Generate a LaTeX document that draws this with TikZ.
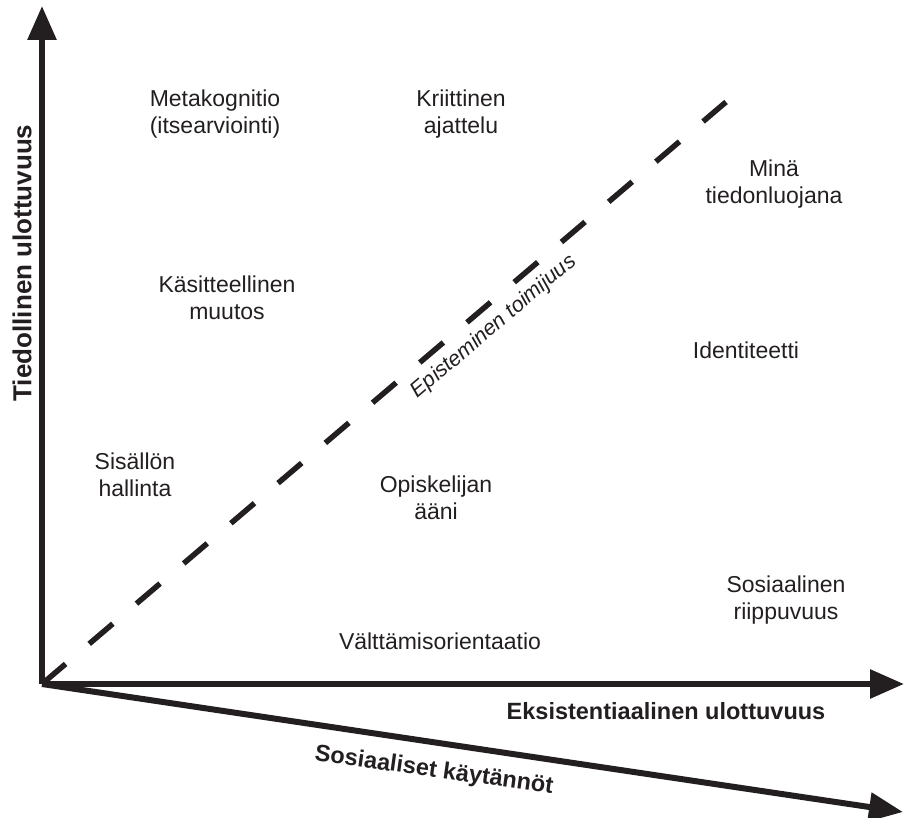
\documentclass[tikz,border=0pt]{standalone}
\usepackage{fontspec}
\setmainfont{Liberation Sans}
\usetikzlibrary{arrows.meta}
\definecolor{ink}{HTML}{231F20}
\begin{document}
\begin{tikzpicture}[x=1pt,y=-1pt,
  axis/.style={draw=ink,line width=6pt,-{Triangle[length=34pt,width=28pt]}},
  agency/.style={draw=ink,line width=5.5pt,dash pattern=on 31pt off 31pt},
  lbl/.style={text=ink,align=center,inner sep=0pt,font=\fontsize{23}{27.5}\selectfont},
  axlbl/.style={text=ink,inner sep=0pt,font=\bfseries\fontsize{23.5}{28}\selectfont}]
  \useasboundingbox (0,0) rectangle (904,818);
  % axes
  \coordinate (O) at (42,684);
  \coordinate (ytip) at (42,6);
  \coordinate (xtip) at (904,684);
  \coordinate (stip) at (903,812);
  \coordinate (dend) at (726,102);
  \draw[agency] (O) -- (dend);
  \draw[axis] (O) -- (ytip);
  \draw[axis] (O) -- (xtip);
  \draw[axis] (O) -- (stip);
  % axis names
  \node[axlbl,rotate=90,font=\bfseries\fontsize{26}{30}\selectfont] (ylab) at (22,263) {Tiedollinen ulottuvuus};
  \node[axlbl] (xlab) at (666,711) {Eksistentiaalinen ulottuvuus};
  \node[axlbl,rotate=-8] (slab) at (434,771) {Sosiaaliset käytännöt};
  \node[text=ink,inner sep=0pt,font=\itshape\fontsize{21.5}{25}\selectfont,rotate=40.4] (agl) at (494,327) {Episteminen toimijuus};
  % regions
  \node[lbl] (meta) at (215,114) {Metakognitio\\(itsearviointi)};
  \node[lbl] (krit) at (461,114) {Kriittinen\\ajattelu};
  \node[lbl] (mina) at (774,184) {Minä\\tiedonluojana};
  \node[lbl] (kasi) at (227,298) {Käsitteellinen\\muutos};
  \node[lbl] (iden) at (746,350) {Identiteetti};
  \node[lbl] (sisa) at (135,475) {Sisällön\\hallinta};
  \node[lbl] (opis) at (436,498) {Opiskelijan\\ääni};
  \node[lbl] (sosi) at (786,600) {Sosiaalinen\\riippuvuus};
  \node[lbl] (valt) at (440,641) {Välttämisorientaatio};
\end{tikzpicture}
\end{document}
